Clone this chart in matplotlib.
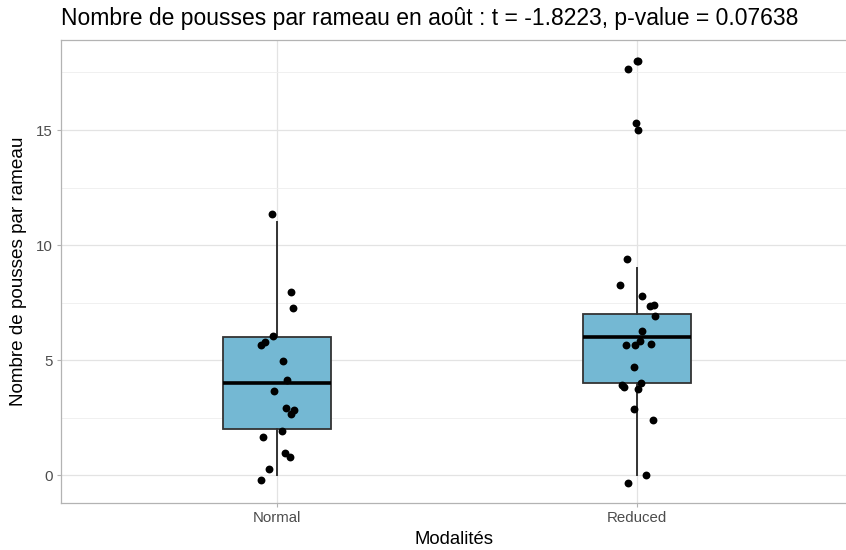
import numpy as np
import matplotlib.pyplot as plt

plt.rcParams['font.family'] = ['Liberation Sans', 'DejaVu Sans']

categories = ['Normal', 'Reduced']
positions = [1, 2]

# box statistics (q1, median, q3, whisker ends)
q1 = [2, 4]
med = [4, 6]
q3 = [6, 7]
whislo = [0, 0]
whishi = [11, 9]

# jittered observations: horizontal offset from the category, value
normal_dx = [-0.014, 0.038, 0.045, -0.012, -0.033, -0.044, 0.017, 0.027,
             -0.008, 0.024, 0.048, 0.038, 0.015, -0.040, 0.021, 0.036,
             -0.022, -0.044]
normal_y = [11.35, 7.97, 7.27, 6.04, 5.78, 5.65, 4.96, 4.12,
            3.65, 2.93, 2.81, 2.67, 1.93, 1.64, 0.97, 0.78,
            0.27, -0.20]
reduced_dx = [0.003, -0.001, -0.024, -0.004, 0.003, -0.028, -0.046, 0.013,
              0.035, 0.046, 0.050, 0.013, 0.008, -0.030, -0.006, 0.040,
              -0.007, -0.043, -0.036, 0.012, 0.002, -0.007, 0.044, 0.024,
              -0.024]
reduced_y = [18.01, 17.98, 17.67, 15.30, 15.00, 9.41, 8.25, 7.78,
             7.36, 7.41, 6.91, 6.25, 5.84, 5.67, 5.67, 5.70,
             4.71, 3.93, 3.84, 3.99, 3.72, 2.86, 2.39, -0.01,
             -0.33]

fig = plt.figure(figsize=(8.46, 5.5), dpi=100)
ax = fig.add_axes([61 / 846, 47 / 550, 1 - 61 / 846, 463 / 550])

stats = []
for i in range(len(categories)):
    stats.append({'q1': q1[i], 'med': med[i], 'q3': q3[i],
                  'whislo': whislo[i], 'whishi': whishi[i], 'fliers': []})

ax.bxp(stats, positions=positions, widths=0.3, patch_artist=True,
       showcaps=False, showfliers=False,
       boxprops=dict(facecolor='#74B8D3', edgecolor='#333333', linewidth=1.3),
       medianprops=dict(color='black', linewidth=2.6, solid_capstyle='butt'),
       whiskerprops=dict(color='#333333', linewidth=1.4),
       zorder=2)

ax.scatter(1 + np.array(normal_dx), normal_y, s=32, color='black', zorder=3, linewidths=0)
ax.scatter(2 + np.array(reduced_dx), reduced_y, s=32, color='black', zorder=3, linewidths=0)

ax.set_xlim(0.4, 0.4 + 785 / 360)
ax.set_ylim(-1.217, 18.913)
ax.set_xticks(positions)
ax.set_xticklabels(categories)
ax.set_yticks([0, 5, 10, 15])
ax.set_yticks([2.5, 7.5, 12.5, 17.5], minor=True)
ax.set_xticks([], minor=True)

ax.grid(True, which='major', color='#E3E3E3', linewidth=0.9, zorder=0)
ax.grid(True, which='minor', axis='y', color='#EEEEEE', linewidth=0.6, zorder=0)
ax.set_axisbelow(True)

for s in ax.spines.values():
    s.set_color('#B3B3B3')
    s.set_linewidth(0.9)
ax.spines['right'].set_visible(False)

ax.tick_params(axis='both', which='major', colors='#B3B3B3', labelcolor='#4D4D4D',
               labelsize=10.8, length=3, width=0.8, pad=3)
ax.tick_params(axis='both', which='minor', length=0)

ax.set_xlabel('Modalités', fontsize=13.3, color='black', labelpad=4)
ax.set_ylabel('Nombre de pousses par rameau', fontsize=13.6, color='black', labelpad=6)
fig.text(61 / 846, 1 - 18 / 550,
         'Nombre de pousses par rameau en août : t = -1.8223, p-value = 0.07638',
         fontsize=16.5, ha='left', va='center')

fig.savefig('out.png', dpi=100)
